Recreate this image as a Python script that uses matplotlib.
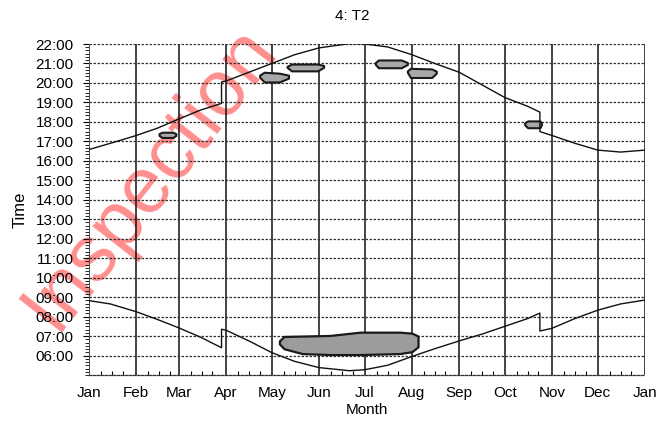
import matplotlib
matplotlib.use('Agg')
import matplotlib.pyplot as plt
from matplotlib.ticker import FixedLocator

plt.rcParams['font.family'] = ['Liberation Sans', 'DejaVu Sans']

# ---- data ----
month_labels = ['Jan', 'Feb', 'Mar', 'Apr', 'May', 'Jun', 'Jul', 'Aug',
                'Sep', 'Oct', 'Nov', 'Dec', 'Jan']
month_days = [0, 31, 59, 90, 120, 151, 181, 212, 243, 273, 304, 334, 365]
hour_ticks = [6, 7, 8, 9, 10, 11, 12, 13, 14, 15, 16, 17, 18, 19, 20, 21, 22]
hour_labels = ['06:00', '07:00', '08:00', '09:00', '10:00', '11:00', '12:00',
               '13:00', '14:00', '15:00', '16:00', '17:00', '18:00', '19:00',
               '20:00', '21:00', '22:00']

curve_days = [0, 14, 31, 45, 59, 73, 87, 87, 90, 105, 120, 135, 151, 171, 181,
              196, 212, 227, 243, 258, 273, 288, 296, 296, 304, 319, 334, 349, 365]
sunset_hr = [16.58, 16.9, 17.3, 17.68, 18.15, 18.6, 18.95, 20.05, 20.1, 20.55,
             21.0, 21.45, 21.8, 22.02, 22.0, 21.85, 21.45, 21.0, 20.55, 19.9,
             19.25, 18.8, 18.5, 17.5, 17.3, 16.9, 16.55, 16.45, 16.55]
sunrise_hr = [8.82, 8.65, 8.25, 7.85, 7.42, 6.95, 6.4, 7.35, 7.3, 6.75,
              6.15, 5.7, 5.38, 5.22, 5.27, 5.5, 5.95, 6.35, 6.75, 7.1,
              7.5, 7.9, 8.18, 7.26, 7.4, 7.9, 8.33, 8.65, 8.85]

# shadow periods: (days, lower, upper)
morning_days = [125, 128, 140, 158, 178, 204, 212, 216]
morning_low = [6.6, 6.35, 6.1, 6.05, 6.05, 6.1, 6.2, 6.45]
morning_up = [6.75, 6.98, 7.0, 7.03, 7.2, 7.2, 7.15, 7.0]

evening_blobs = [
    ([46, 48, 55, 57], [17.3, 17.2, 17.2, 17.3], [17.4, 17.47, 17.47, 17.4]),
    ([112, 115, 125, 131], [20.3, 20.05, 20.05, 20.25], [20.4, 20.55, 20.5, 20.4]),
    ([130, 133, 150, 154], [20.8, 20.62, 20.62, 20.8], [20.85, 20.97, 20.97, 20.9]),
    ([188, 190, 205, 209], [20.95, 20.78, 20.78, 20.95], [21.05, 21.18, 21.18, 21.05]),
    ([209, 211, 225, 228], [20.55, 20.28, 20.28, 20.5], [20.62, 20.75, 20.72, 20.6]),
    ([286, 288, 296, 297], [17.85, 17.7, 17.7, 17.85], [17.95, 18.05, 18.05, 17.95]),
]

# ---- figure ----
fig = plt.figure(figsize=(6.7, 4.24), dpi=100)
ax = fig.add_axes([89 / 670, 1 - 375 / 424, (645 - 89) / 670, (375 - 44) / 424])
ax.patch.set_alpha(0)

fig.text(150 / 670, 1 - 178 / 424, 'Inspection', rotation=52, rotation_mode='anchor',
         ha='center', va='center', fontsize=57, color='#ff8f8f', zorder=-1)

ax.fill_between(morning_days, morning_low, morning_up, facecolor='#9c9c9c',
                edgecolor='#1a1a1a', linewidth=1.6, zorder=3)
for d, lo, up in evening_blobs:
    ax.fill_between(d, lo, up, facecolor='#a8a8a8', edgecolor='#1a1a1a',
                    linewidth=1.5, zorder=3)

ax.plot(curve_days, sunset_hr, color='#111111', lw=1.0, zorder=4)
ax.plot(curve_days, sunrise_hr, color='#111111', lw=1.0, zorder=4)

ax.set_xlim(0, 365)
ax.set_ylim(5, 22)
ax.set_xticks(month_days)
ax.set_xticklabels(month_labels, fontsize=11)
ax.set_yticks(hour_ticks)
ax.set_yticklabels(hour_labels, fontsize=11)

minor_x = [m + k for m in month_days[:-1] for k in (8, 15, 22)]
ax.xaxis.set_minor_locator(FixedLocator(minor_x))
ax.yaxis.set_minor_locator(FixedLocator([5 + i / 6 for i in range(0, 17 * 6 + 1)]))
ax.tick_params(axis='x', which='major', length=0, pad=8)
ax.tick_params(axis='x', which='minor', length=3, direction='in', width=0.8)
ax.tick_params(axis='y', which='major', length=4, direction='out', pad=7, width=0.8)
ax.tick_params(axis='y', which='minor', length=3, direction='out', width=0.6)

for d in month_days:
    ax.axvline(d, color='#111111', lw=1.1, zorder=2)
for h in hour_ticks:
    ax.axhline(h, color='#333333', lw=0.9, ls=(0, (2, 1.2)), zorder=2)

for s in ('top', 'right'):
    ax.spines[s].set_visible(False)
ax.spines['left'].set_linewidth(0.6)
ax.spines['left'].set_color('#555555')
ax.spines['bottom'].set_linewidth(0.9)
ax.spines['bottom'].set_linestyle((0, (2, 1.2)))
ax.spines['bottom'].set_color('#333333')

ax.set_xlabel('Month', fontsize=11, labelpad=2)
ax.set_ylabel('Time', fontsize=12, labelpad=6)
fig.text(352 / 670, 1 - 16 / 424, '4: T2', ha='center', va='center', fontsize=11)

fig.savefig('out.png', dpi=100)
